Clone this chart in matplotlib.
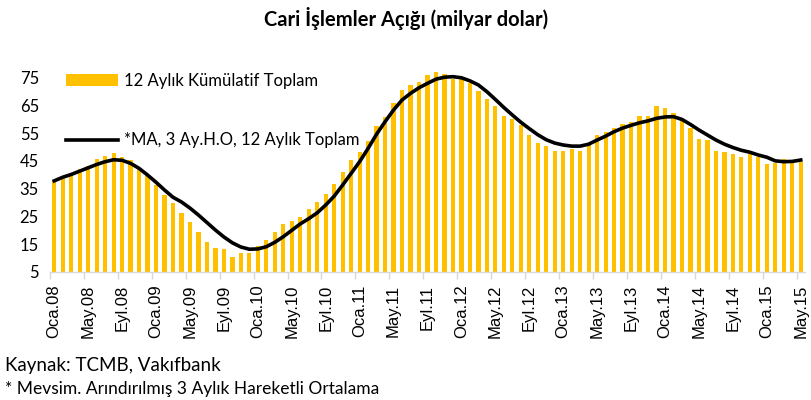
import matplotlib.pyplot as plt
import numpy as np

# 12 aylik kumulatif toplam (Oca.08 - May.15, aylik)
cumulative = [37.8, 39.1, 39.9, 42.0, 43.1, 45.6, 46.6, 47.7, 46.4, 45.4, 42.3, 39.9,
              36.2, 32.7, 29.7, 26.1, 22.9, 19.5, 15.9, 13.5, 13.3, 10.3, 11.7, 11.9,
              14.5, 16.5, 19.4, 22.3, 23.3, 24.7, 27.5, 30.3, 33.1, 36.7, 40.9, 45.3,
              48.3, 52.1, 57.5, 60.9, 65.9, 70.5, 72.3, 73.2, 75.9, 76.8, 76.1, 74.6,
              74.4, 72.9, 70.1, 67.1, 64.8, 61.2, 60.1, 57.8, 54.3, 51.4, 50.3, 48.6,
              48.5, 49.2, 48.6, 51.3, 54.2, 55.3, 57.0, 58.3, 59.0, 61.1, 61.2, 64.7,
              64.0, 62.3, 59.2, 56.8, 53.0, 52.4, 48.5, 48.2, 47.3, 46.4, 47.3, 46.4,
              44.0, 44.3, 45.8, 44.3, 44.7]

# mevsimsellikten arindirilmis 3 aylik hareketli ortalama
moving_avg = [37.8, 39.1, 40.1, 41.3, 42.5, 43.7, 44.7, 45.4, 45.2, 44.1, 42.3, 39.9,
              37.3, 34.5, 31.9, 30.2, 28.0, 25.5, 22.8, 20.1, 17.6, 15.5, 14.0, 13.2,
              13.3, 14.1, 15.7, 17.7, 20.0, 22.3, 24.2, 26.3, 29.1, 32.3, 36.3, 40.5,
              44.7, 49.5, 54.6, 59.1, 63.3, 66.9, 69.3, 71.3, 72.9, 74.4, 75.1, 75.3,
              74.9, 73.8, 72.3, 69.9, 67.1, 64.2, 61.5, 58.9, 56.6, 54.4, 52.6, 51.4,
              50.7, 50.3, 50.3, 51.0, 52.5, 53.9, 55.5, 56.8, 57.8, 58.7, 59.4, 60.3,
              60.8, 60.9, 59.9, 58.1, 56.1, 54.3, 52.5, 51.0, 49.8, 48.8, 48.1, 47.1,
              46.3, 45.0, 44.7, 44.8, 45.3]

tick_labels = ["Oca.08", "May.08", "Eyl.08", "Oca.09", "May.09", "Eyl.09",
               "Oca.10", "May.10", "Eyl.10", "Oca.11", "May.11", "Eyl.11",
               "Oca.12", "May.12", "Eyl.12", "Oca.13", "May.13", "Eyl.13",
               "Oca.14", "May.14", "Eyl.14", "Oca.15", "May.15"]

y_ticks = [5, 15, 25, 35, 45, 55, 65, 75]

plt.rcParams['font.family'] = ['Lato', 'DejaVu Sans']

x = np.arange(len(cumulative))

fig = plt.figure(figsize=(8.12, 4.0), dpi=100)
ax = fig.add_axes([50 / 812, 0.32, 755 / 812, 0.521])

bars = ax.bar(x, np.array(cumulative) - 5, bottom=5, width=0.5, color="#FFC000",
              label="12 Aylık Kümülatif Toplam")
line, = ax.plot(x, moving_avg, color="black", linewidth=2.6,
                label="*MA, 3 Ay.H.O, 12 Aylık Toplam")

ax.set_xlim(-0.5, len(cumulative) - 0.5)
ax.set_ylim(5, 80)
ax.set_yticks(y_ticks)
ax.tick_params(axis="y", length=0, labelsize=12, pad=8)

ax.set_xticks(x[::4])
ax.set_xticklabels(tick_labels, rotation=90, family="Liberation Sans", fontsize=12)
ax.tick_params(axis="x", which="major", length=0, pad=9)
ax.set_xticks(np.arange(-0.5, len(cumulative) - 1, 4), minor=True)
ax.tick_params(axis="x", which="minor", length=5, color="#D9D9D9", width=1)

for s in ["top", "right", "left"]:
    ax.spines[s].set_visible(False)
ax.spines["bottom"].set_color("#D9D9D9")
ax.spines["bottom"].set_linewidth(1)

fig.legend(handles=[bars, line], loc="upper left",
           bbox_to_anchor=(66 / 812, 1 - 73 / 400),
           frameon=False, fontsize=12, labelspacing=2.6, handlelength=3.1,
           handletextpad=0.4, borderpad=0, borderaxespad=0)

fig.text(0.5, 1 - 19 / 400, "Cari İşlemler Açığı (milyar dolar)", ha="center",
         va="center", fontsize=14.5, fontweight="bold")
fig.text(5 / 812, 1 - 366 / 400, "Kaynak: TCMB, Vakıfbank", ha="left",
         va="center", fontsize=13.5)
fig.text(5 / 812, 1 - 389 / 400, "* Mevsim. Arındırılmış 3 Aylık Hareketli Ortalama",
         ha="left", va="center", fontsize=12.5)

fig.savefig("out.png", dpi=100)
